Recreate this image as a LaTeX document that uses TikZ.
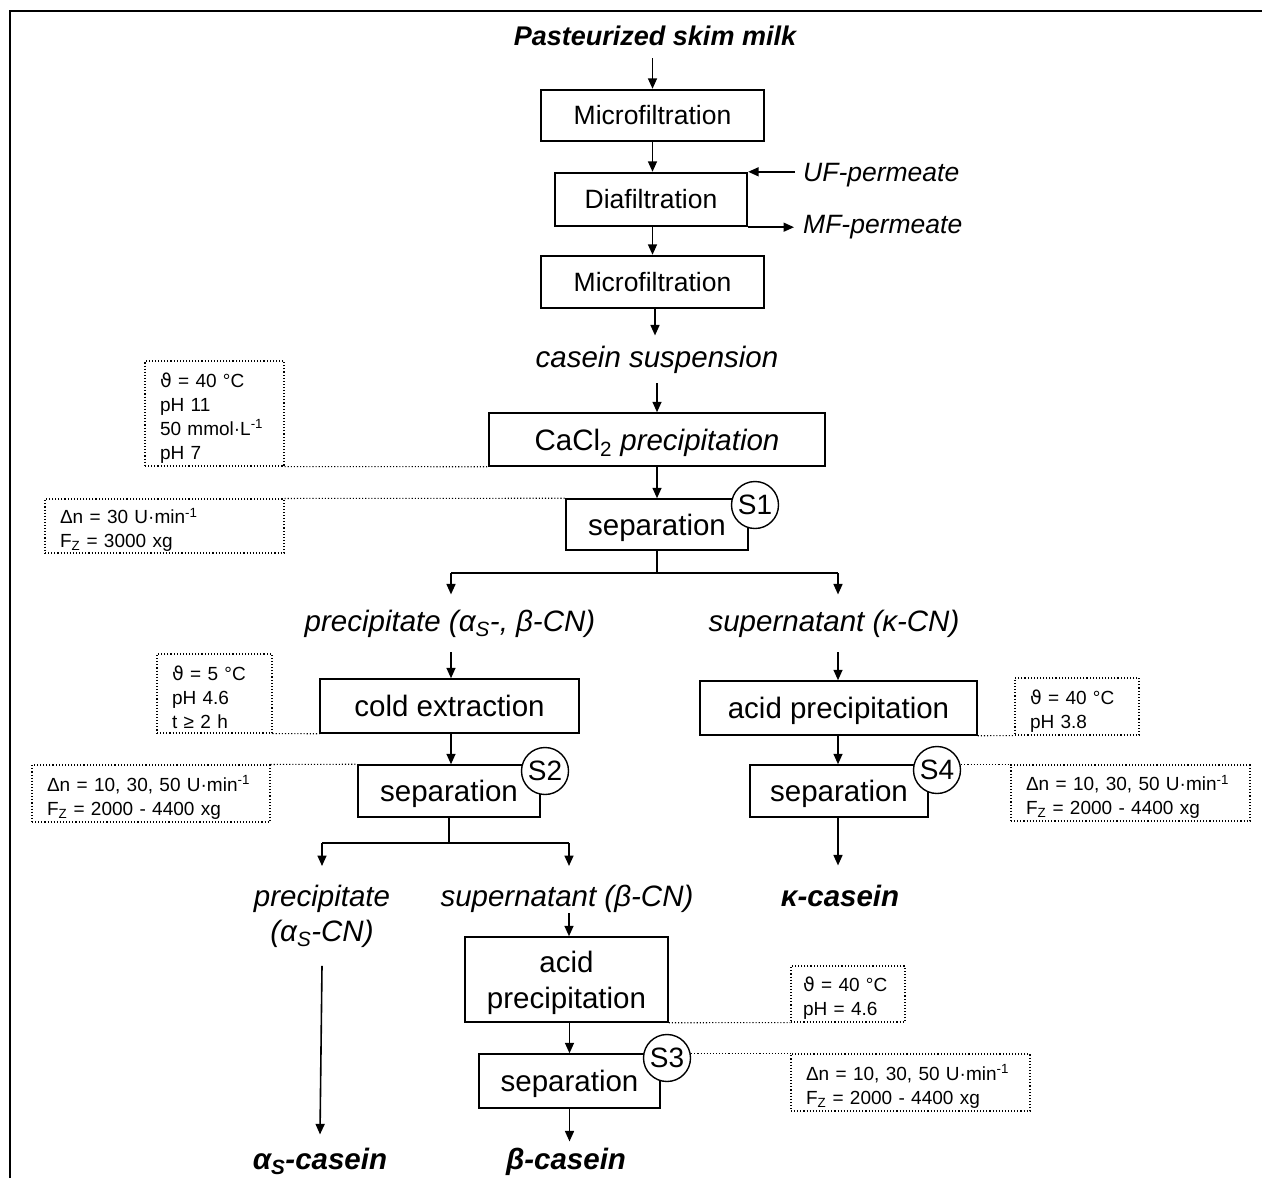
\documentclass[tikz,border=0pt]{standalone}
\usepackage{fontspec}
\setmainfont{Liberation Sans}
\newfontfamily\djv{DejaVu Sans}
\usetikzlibrary{arrows.meta}
\begin{document}
\begin{tikzpicture}[x=1pt,y=-1pt,
  arr/.style={-{Triangle[length=10.5pt,width=9pt]}, line width=1.6pt},
  ln/.style={line width=1.6pt},
  mfbox/.style={draw, line width=2.4pt, inner sep=0pt, font=\fontsize{26.5}{30}\selectfont},
  pbox/.style={draw, line width=1.5pt, inner sep=0pt, align=center, text depth=0pt, font=\fontsize{29.5}{36}\selectfont},
  lbl/.style={inner xsep=0pt, inner ysep=15pt, align=center, font=\fontsize{29.5}{35}\selectfont\itshape},
  fin/.style={inner xsep=0pt, font=\fontsize{29.5}{35}\selectfont\bfseries\itshape},
  perm/.style={inner sep=0pt, anchor=west, font=\fontsize{26.5}{30}\selectfont\itshape},
  parbox/.style={draw, dotted, line width=1.1pt, inner xsep=15pt, inner ysep=0pt, align=left,
    execute at begin node={\rule{0pt}{23pt}}, font=\fontsize{19}{24}\selectfont},
  dl/.style={dotted, line width=1.1pt},
  sc/.style={circle, draw, fill=white, line width=1.4pt, minimum size=47pt, inner sep=0pt, font=\fontsize{28}{30}\selectfont}
]
\useasboundingbox (0,0) rectangle (1266,1178);
% frame
\draw[line width=2pt] (10,1178) -- (10,11) -- (1262,11);

% top chain
\node[inner xsep=0pt, inner ysep=13pt, anchor=base, font=\fontsize{27}{30}\selectfont\bfseries\itshape] (milk) at (655,45) {Pasteurized skim milk};
\node[mfbox, minimum width=223pt, minimum height=51pt] (mf1) at (652.5,115.5) {Microfiltration};
\node[mfbox, minimum width=192pt, minimum height=53pt] (df) at (651,199.5) {Diafiltration};
\node[mfbox, minimum width=223pt, minimum height=52pt] (mf2) at (652.5,282) {Microfiltration};
\node[perm] (uf) at (803,175) {UF-permeate};
\node[perm] (mfp) at (803,227) {MF-permeate};

\draw[arr] (mf1.north |- milk.south) -- (mf1.north);
\draw[arr] (mf1.south) -- (mf1.south |- df.north);
\draw[arr] (mf1.south |- df.south) -- (mf2.north);
\draw[arr, shorten <=8pt] (uf.west |- df.north east) -- (df.north east);
\draw[arr, shorten >=9pt] (df.south east) -- (df.south east -| mfp.west);

% casein suspension
\node[lbl, inner ysep=10pt, anchor=base] (cs) at (657,367) {casein suspension};
\draw[arr] ([xshift=2.5pt]mf2.south) -- ([xshift=2.5pt]mf2.south |- cs.north);

\node[pbox, minimum width=336pt, minimum height=53pt] (cacl) at (657,439.5) {CaCl\textsubscript{2} \textit{precipitation}};
\draw[arr] (cs.south) -- (cacl.north);
\node[parbox, minimum width=139pt, minimum height=105pt, text width=109pt] (p1) at (214.5,413.5)
  {{\djv ϑ} = 40 °C\\pH 11\\50 mmol·L\textsuperscript{-1}\\pH 7};
\draw[dl] (p1.south east) -- (cacl.south west);

% separation S1
\node[pbox, minimum width=182pt, minimum height=51pt] (sep1) at (657,524.5) {separation};
\draw[arr] (cacl.south) -- (sep1.north);
\node[sc] (s1) at (755,505) {S1};
\node[parbox, minimum width=239pt, minimum height=54pt, text width=209pt] (p2) at (164.5,526)
  {Δn = 30 U·min\textsuperscript{-1}\\F\textsubscript{Z} = 3000 xg};
\draw[dl] (p2.north east) -- (sep1.north west);

\coordinate (j1) at (657,573);
\coordinate (j1l) at (451,573);
\coordinate (j1r) at (838,573);
\draw[ln] (sep1.south) -- (j1);
\draw[ln] (j1l) -- (j1r);

\node[lbl, anchor=base] (pre1) at (450,631) {precipitate (α\textsubscript{S}-, β-CN)};
\node[lbl, anchor=base] (sup1) at (834,631) {supernatant (κ-CN)};
\draw[arr] (j1l) -- (j1l |- pre1.north);
\draw[arr] (j1r) -- (j1r |- sup1.north);

% left branch
\node[pbox, minimum width=259pt, minimum height=54pt] (cold) at (449.5,706) {cold extraction};
\draw[arr] (j1l |- pre1.south) -- (j1l |- cold.north);
\node[parbox, minimum width=115pt, minimum height=79pt, text width=85pt] (p3) at (214.5,693.5)
  {{\djv ϑ} = 5 °C\\pH 4.6\\t ≥ 2 h};
\draw[dl] (p3.south east) -- (cold.south west);

\node[pbox, minimum width=182pt, minimum height=52pt] (sep2) at (449,791) {separation};
\draw[arr] (j1l |- cold.south) -- (j1l |- sep2.north);
\node[sc] (s2) at (545,771) {S2};
\node[parbox, minimum width=238pt, minimum height=57pt, text width=208pt] (p4) at (151,793.5)
  {Δn = 10, 30, 50 U·min\textsuperscript{-1}\\F\textsubscript{Z} = 2000 - 4400 xg};
\draw[dl] (p4.north east) -- (sep2.north west);

\coordinate (j2) at (449,843);
\coordinate (j2l) at (322,843);
\coordinate (j2r) at (569,843);
\draw[ln] (sep2.south) -- (j2);
\draw[ln] (j2l) -- (j2r);

\node[lbl, inner ysep=18.5pt, anchor=north] (pre2) at (322,866) {precipitate\\(α\textsubscript{S}-CN)};
\node[lbl, inner ysep=18.5pt, anchor=north] (sup2) at (567,866) {supernatant (β-CN)};
\draw[arr] (j2l) -- (pre2.north);
\draw[arr] (j2r) -- (j2r |- sup2.north);

\node[fin, inner ysep=13pt, anchor=base] (as) at (320,1169) {α\textsubscript{S}-casein};
\draw[arr] (pre2.south) -- (as.north);

\node[pbox, minimum width=203pt, minimum height=85pt] (acid2) at (566.5,979.5) {acid\\precipitation};
\draw[arr] ([yshift=-7pt]sup2.base -| j2r) -- (j2r |- acid2.north);
\node[parbox, minimum width=114pt, minimum height=56pt, inner xsep=12pt, text width=90pt] (p5) at (848,994)
  {{\djv ϑ} = 40 °C\\pH = 4.6};
\draw[dl] (acid2.south east) -- (p5.south west);

\node[pbox, minimum width=181pt, minimum height=54pt] (sep3) at (569.5,1081) {separation};
\draw[arr] (sep3.north |- acid2.south) -- (sep3.north);
\node[sc] (s3) at (667,1058) {S3};
\node[parbox, minimum width=239pt, minimum height=57pt, text width=209pt] (p6) at (910.5,1082.5)
  {Δn = 10, 30, 50 U·min\textsuperscript{-1}\\F\textsubscript{Z} = 2000 - 4400 xg};
\draw[dl] (s3.east |- p6.north west) -- (p6.north west);

\node[fin, inner ysep=6pt, anchor=base] (bc) at (566,1169) {β-casein};
\draw[arr] (sep3.south) -- (sep3.south |- bc.north);

% right branch
\node[pbox, minimum width=277pt, minimum height=54pt] (acid1) at (838.5,708) {acid precipitation};
\draw[arr] (j1r |- sup1.south) -- (j1r |- acid1.north);
\node[parbox, minimum width=124pt, minimum height=57pt, text width=94pt] (p7) at (1077,706.5)
  {{\djv ϑ} = 40 °C\\pH 3.8};
\draw[dl] (acid1.south east) -- (p7.south west);

\node[pbox, minimum width=178pt, minimum height=52pt] (sep4) at (839,791) {separation};
\draw[arr] (j1r |- acid1.south) -- (j1r |- sep4.north);
\node[sc] (s4) at (937,770) {S4};
\node[parbox, minimum width=239pt, minimum height=56pt, text width=209pt] (p8) at (1130.5,793)
  {Δn = 10, 30, 50 U·min\textsuperscript{-1}\\F\textsubscript{Z} = 2000 - 4400 xg};
\draw[dl] (s4.east |- p8.north west) -- (p8.north west);

\node[fin, inner ysep=19pt, anchor=base] (kap) at (840,906) {κ-casein};
\draw[arr] (j1r |- sep4.south) -- (j1r |- kap.north);
\end{tikzpicture}
\end{document}
